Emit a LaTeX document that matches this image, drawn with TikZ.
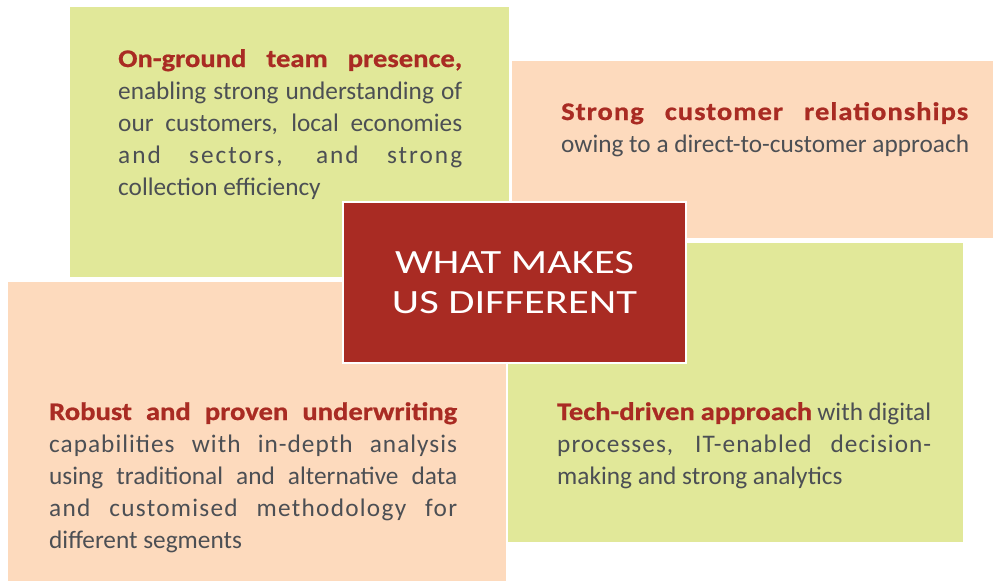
\documentclass[tikz,border=0pt]{standalone}
\usepackage{fontspec}
\setmainfont{Carlito}
\newfontfamily\leadfont[FakeStretch=1.13,FakeBold=0.8]{Carlito}
\newfontfamily\capsfont[FakeStretch=1.25]{Carlito}
\usetikzlibrary{positioning}

\definecolor{leaf}{RGB}{225,232,153}
\definecolor{peach}{RGB}{253,218,189}
\definecolor{brick}{RGB}{169,43,35}
\definecolor{slate}{RGB}{76,79,84}

\tikzset{
  tile/.style={anchor=north west, inner sep=0pt, outer sep=0pt},
  leaftile/.style={tile, fill=leaf},
  peachtile/.style={tile, fill=peach},
  centretile/.style={fill=brick, draw=white, line width=2.5pt, inner sep=0pt,
    minimum width=343pt, minimum height=161pt, text=white, align=center,
    font=\capsfont\fontsize{34}{40}\selectfont},
  % anchored on the baseline of the last line
  blurb/.style={anchor=base west, inner sep=0pt, align=left, text=slate,
    font=\fontsize{25.3}{32}\selectfont},
}
% red lead-in words, a line stretched to the full column, and a tracked one
\newcommand\lead[1]{{\leadfont\bfseries\color{brick}#1}}
\newcommand\fillline[2]{\makebox[#1pt][s]{#2}}
\newcommand\tracked[2]{{\addfontfeature{LetterSpace=#1}#2}}

\begin{document}
\begin{tikzpicture}[x=1pt,y=-1pt]
  \useasboundingbox (0,0) rectangle (993,581);

  % the four tiles
  \node[leaftile, minimum width=439pt, minimum height=270pt] (presence) at (70,7) {};
  \node[peachtile, minimum width=481pt, minimum height=177pt] (relations) at (512,61) {};
  \node[peachtile, minimum width=498pt, minimum height=299pt] (underwriting) at (8,282) {};
  \node[leaftile, minimum width=455pt, minimum height=299pt] (tech) at (508,243) {};

  % texts
  \node[blurb] (presencetext) at (118,195) {%
    \fillline{344}{\lead{On-ground team presence,}}\\
    \fillline{344}{enabling strong understanding of}\\
    \fillline{344}{our customers, local economies}\\
    \fillline{344}{\tracked{8}{and sectors, and strong}}\\
    collection efficiency};
  \node[blurb] (relationstext) at (561,152) {%
    \fillline{407}{\lead{\tracked{4}{Strong customer relationships}}}\\
    owing to a direct-to-customer approach};
  \node[blurb] (underwritingtext) at (49,548) {%
    \fillline{408}{\lead{Robust and proven underwriting}}\\
    \fillline{408}{\tracked{4}{capabilities with in-depth analysis}}\\
    \fillline{408}{using traditional and alternative data}\\
    \fillline{408}{\tracked{5}{and customised methodology for}}\\
    different segments};
  \node[blurb] (techtext) at (557,484) {%
    \fillline{374}{\lead{Tech-driven approach} with digital}\\
    \fillline{374}{\tracked{4}{processes, IT-enabled decision-}}\\
    making and strong analytics};

  % centre box on top
  \node[centretile] (different) at (514.5,282.5) {WHAT MAKES\\US DIFFERENT};
\end{tikzpicture}
\end{document}
